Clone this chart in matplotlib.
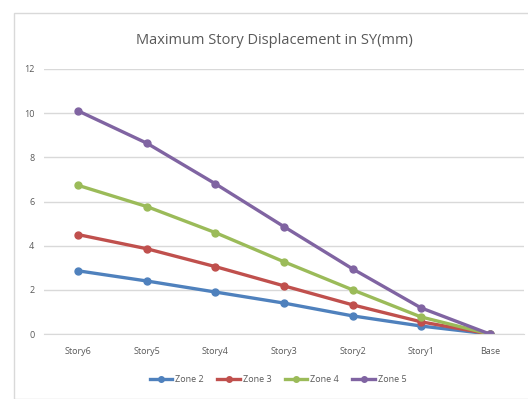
import matplotlib
matplotlib.use("Agg")
import matplotlib.pyplot as plt
from matplotlib.patches import Rectangle

categories = ["Story6", "Story5", "Story4", "Story3", "Story2", "Story1", "Base"]
zone2 = [2.86, 2.40, 1.90, 1.40, 0.82, 0.36, 0.0]
zone3 = [4.50, 3.86, 3.05, 2.18, 1.32, 0.55, 0.0]
zone4 = [6.73, 5.77, 4.59, 3.27, 2.00, 0.77, 0.0]
zone5 = [10.10, 8.64, 6.80, 4.86, 2.95, 1.18, 0.0]
series_names = ["Zone 2", "Zone 3", "Zone 4", "Zone 5"]
colors = ["#4F81BD", "#C0504D", "#9BBB59", "#8064A2"]
yticks = [0, 2, 4, 6, 8, 10, 12]

plt.rcParams['font.family'] = ['Open Sans', 'DejaVu Sans']
fig = plt.figure(figsize=(5.28, 3.99), dpi=100)
fig.patches.append(Rectangle((14/528, 0), 1, 1 - 13/399, transform=fig.transFigure,
                             fill=False, edgecolor="#D9D9D9", linewidth=1))
ax = fig.add_axes([44/528, 1 - 334/399, (524 - 44)/528, (334 - 69)/399])
x = list(range(len(categories)))
for vals, name, c in zip([zone2, zone3, zone4, zone5], series_names, colors):
    ax.plot(x, vals, color=c, linewidth=2.4, marker="o", markersize=5, label=name)
ax.set_xlim(-0.5, len(categories) - 0.5)
ax.set_ylim(0, 12)
ax.set_yticks(yticks)
ax.set_xticks(x)
ax.set_xticklabels(categories)
ax.grid(axis="y", color="#D9D9D9", linewidth=1)
ax.set_axisbelow(True)
for s in ["top", "right", "left"]:
    ax.spines[s].set_visible(False)
ax.spines["bottom"].set_color("#D9D9D9")
ax.tick_params(axis="both", length=0, labelsize=6.5, colors="#595959", pad=9)
ax.tick_params(axis="y", pad=7)
fig.text(0.5 + 10/528, 1 - 40/399, "Maximum Story Displacement in SY(mm)", ha="center", va="center",
         fontsize=10.5, color="#595959")
ax.legend(loc="center", bbox_to_anchor=(0.5 - 6/480, (334 - 380) / (334 - 69)), ncol=4, frameon=False,
          fontsize=6.5, labelcolor="#595959", handlelength=2.5, columnspacing=1.5, handletextpad=0.3,
          markerscale=0.8)
fig.savefig("out.png", dpi=100)
